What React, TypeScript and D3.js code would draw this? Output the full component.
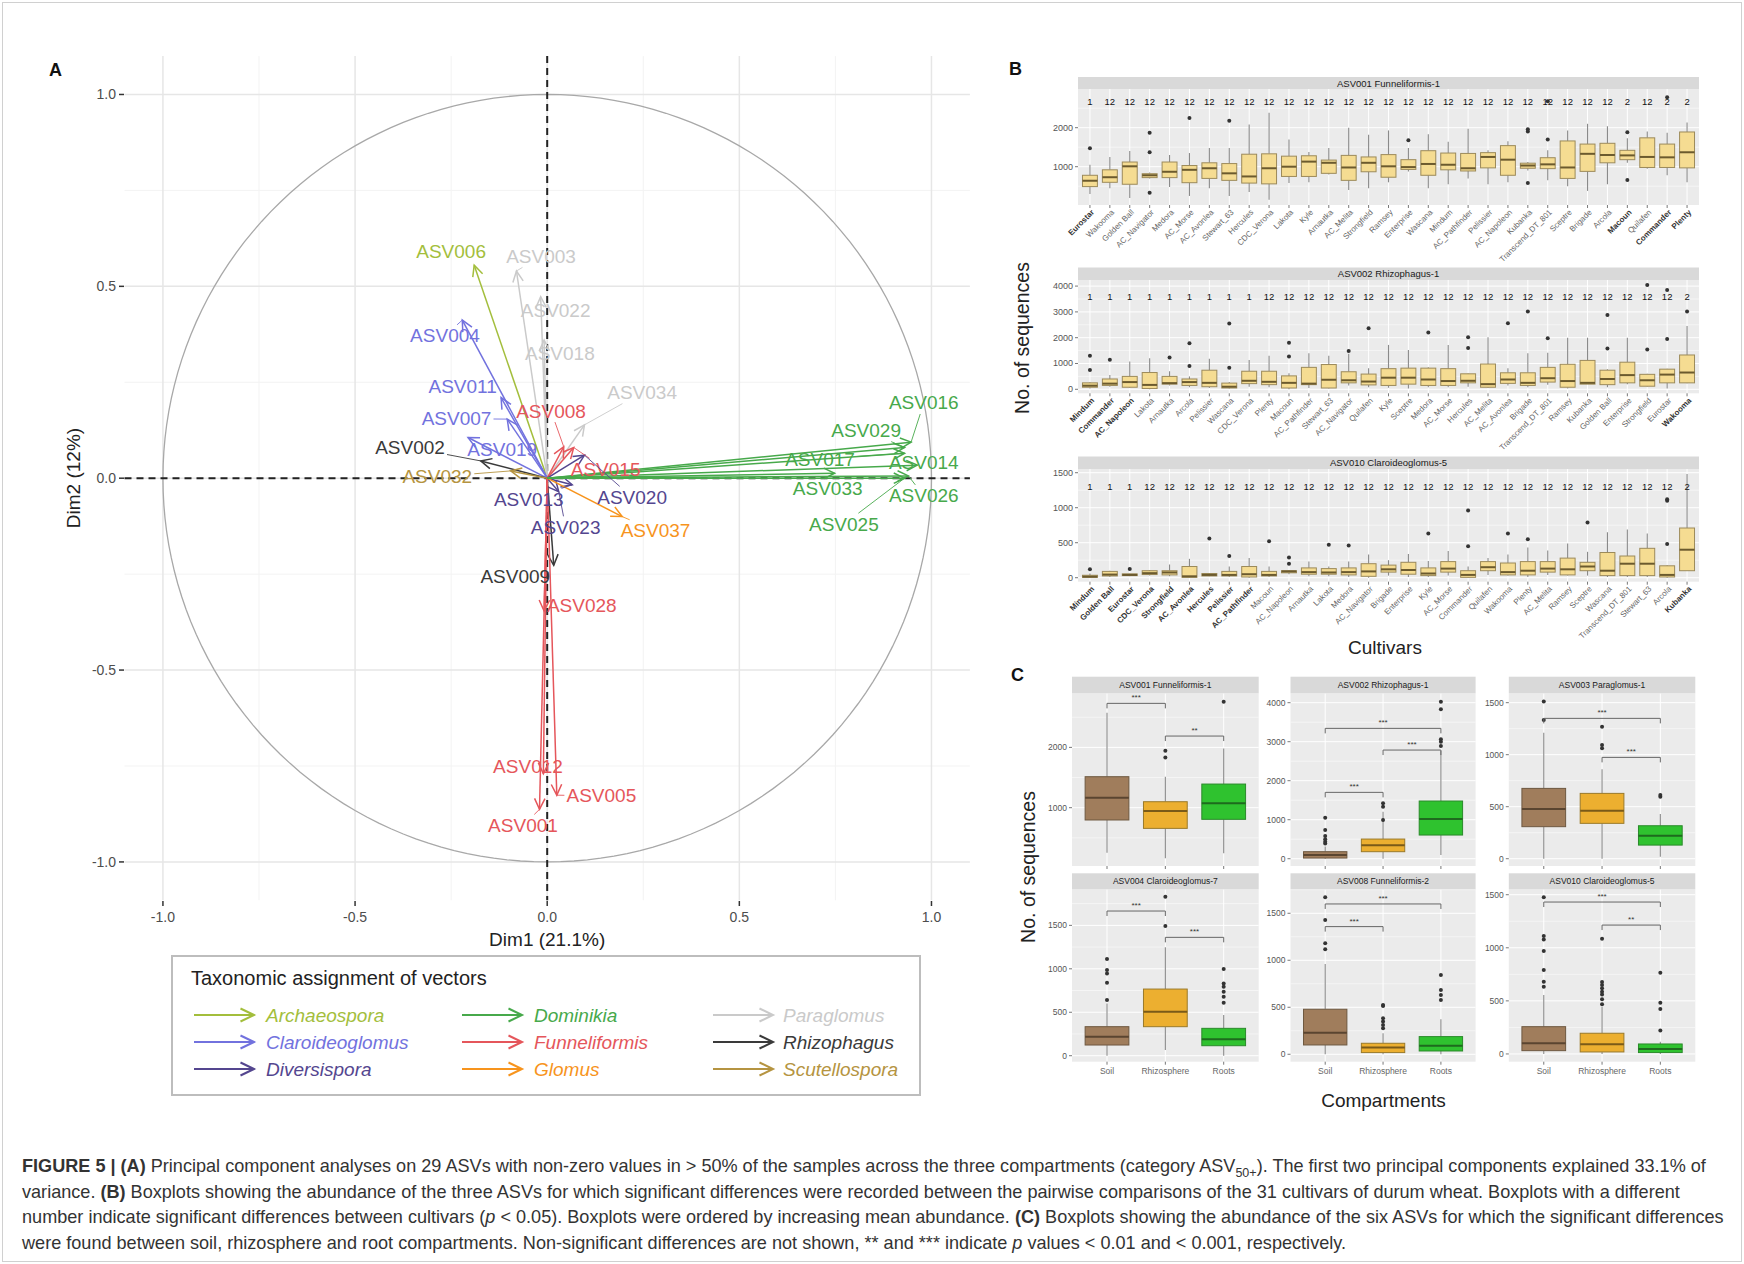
import React from 'react';
import * as d3 from 'd3';

const FONT = '"Liberation Sans", Arial, Helvetica, sans-serif';

// ---------------- Panel A data ----------------
const genera = ['Archaeospora', 'Claroideoglomus', 'Diversispora', 'Dominikia', 'Funneliformis', 'Glomus', 'Paraglomus', 'Rhizophagus', 'Scutellospora'];
const genusColors = ['#A3BE3C', '#7272DE', '#54468F', '#47A94B', '#E5565B', '#F7941D', '#CACACA', '#3A3A3A', '#B59441'];

const asvNames = ['ASV006', 'ASV003', 'ASV022', 'ASV018', 'ASV034', 'ASV004', 'ASV011', 'ASV007', 'ASV019', 'ASV002', 'ASV032', 'ASV008', 'ASV015', 'ASV020', 'ASV013', 'ASV023', 'ASV037', 'ASV009', 'ASV028', 'ASV012', 'ASV001', 'ASV005', 'ASV016', 'ASV029', 'ASV017', 'ASV014', 'ASV033', 'ASV026', 'ASV025'];
const asvGenus = ['Archaeospora', 'Paraglomus', 'Paraglomus', 'Paraglomus', 'Paraglomus', 'Claroideoglomus', 'Claroideoglomus', 'Claroideoglomus', 'Claroideoglomus', 'Rhizophagus', 'Scutellospora', 'Funneliformis', 'Funneliformis', 'Diversispora', 'Diversispora', 'Diversispora', 'Glomus', 'Rhizophagus', 'Funneliformis', 'Funneliformis', 'Funneliformis', 'Funneliformis', 'Dominikia', 'Dominikia', 'Dominikia', 'Dominikia', 'Dominikia', 'Dominikia', 'Dominikia'];
const dim1 = [-0.19, -0.08, -0.017, -0.008, 0.097, -0.221, -0.12, -0.104, -0.206, -0.173, -0.095, 0.043, 0.069, 0.097, 0.065, 0.03, 0.195, 0.017, -0.008, -0.01, -0.02, 0.025, 0.947, 0.93, 0.93, 0.963, 0.748, 0.94, 0.93];
const dim2 = [0.555, 0.54, 0.473, 0.36, 0.139, 0.412, 0.21, 0.154, 0.106, 0.045, 0.019, 0.082, 0.08, 0.06, -0.017, -0.035, -0.1, -0.227, -0.346, -0.77, -0.863, -0.826, 0.094, 0.08, 0.065, 0.034, 0.013, 0.006, 0.0];
const labelDim1 = [-0.25, -0.016, 0.022, 0.033, 0.247, -0.266, -0.22, -0.236, -0.117, -0.357, -0.286, 0.01, 0.152, 0.221, -0.048, 0.048, 0.282, -0.083, 0.09, -0.05, -0.063, 0.141, 0.98, 0.83, 0.71, 0.98, 0.73, 0.98, 0.772];
const labelDim2 = [0.59, 0.578, 0.436, 0.324, 0.223, 0.371, 0.24, 0.155, 0.075, 0.08, 0.004, 0.175, 0.023, -0.05, -0.055, -0.128, -0.137, -0.257, -0.332, -0.751, -0.905, -0.828, 0.196, 0.124, 0.05, 0.041, -0.027, -0.046, -0.12];
const pcaTicks = [-1.0, -0.5, 0.0, 0.5, 1.0];
const pcaMinor = [-0.75, -0.25, 0.25, 0.75];

// ---------------- Panel B data ----------------
const b1Cultivars = ['Eurostar', 'Wakooma', 'Golden Ball', 'AC_Navigator', 'Medora', 'AC_Morse', 'AC_Avonlea', 'Stewart_63', 'Hercules', 'CDC_Verona', 'Lakota', 'Kyle', 'Arnautka', 'AC_Melita', 'Strongfield', 'Ramsey', 'Enterprise', 'Wascana', 'Mindum', 'AC_Pathfinder', 'Pelissier', 'AC_Napoleon', 'Kubanka', 'Transcend_DT_801', 'Sceptre', 'Brigade', 'Arcola', 'Macoun', 'Quilafen', 'Commander', 'Plenty'];
const b1Stats = [[300, 490, 640, 780, 1050], [450, 600, 730, 920, 1250], [200, 550, 1010, 1120, 1400], [700, 720, 780, 820, 850], [480, 720, 870, 1120, 1300], [250, 590, 920, 1030, 1350], [450, 700, 960, 1100, 1480], [250, 650, 830, 1080, 1480], [350, 580, 750, 1320, 2080], [150, 560, 960, 1330, 2380], [580, 750, 1000, 1270, 1700], [600, 750, 1130, 1280, 1380], [800, 830, 1100, 1170, 1480], [400, 650, 980, 1290, 2000], [450, 870, 1100, 1250, 1820], [600, 730, 1010, 1310, 1930], [880, 930, 990, 1180, 1480], [450, 780, 1070, 1410, 1830], [550, 920, 1050, 1350, 1640], [700, 890, 960, 1340, 1970], [550, 970, 1250, 1360, 1420], [600, 780, 1180, 1540, 1650], [900, 960, 1030, 1090, 1120], [650, 950, 1060, 1230, 1420], [500, 700, 980, 1660, 1930], [380, 880, 1330, 1580, 2100], [550, 1100, 1300, 1600, 2040], [1100, 1180, 1290, 1420, 1730], [950, 980, 1250, 1740, 1900], [780, 980, 1240, 1580, 1870], [600, 970, 1370, 1890, 2130]];
const b1Outliers = [[1470], [], [], [330, 1370, 1870], [], [2250], [], [2180], [], [], [], [], [], [], [], [], [1680], [], [], [], [], [], [580, 1900, 1960], [1700, 2680], [], [], [], [660, 1880], [], [2780], []];
const b1Groups = ['1', '12', '12', '12', '12', '12', '12', '12', '12', '12', '12', '12', '12', '12', '12', '12', '12', '12', '12', '12', '12', '12', '12', '12', '12', '12', '12', '2', '12', '2', '2'];
const b1Bold = ['Eurostar', 'Macoun', 'Commander', 'Plenty'];

const b2Cultivars = ['Mindum', 'Commander', 'AC_Napoleon', 'Lakota', 'Arnautka', 'Arcola', 'Pelissier', 'Wascana', 'CDC_Verona', 'Plenty', 'Macoun', 'AC_Pathfinder', 'Stewart_63', 'AC_Navigator', 'Quilafen', 'Kyle', 'Sceptre', 'Medora', 'AC_Morse', 'Hercules', 'AC_Melita', 'AC_Avonlea', 'Brigade', 'Transcend_DT_801', 'Ramsey', 'Kubanka', 'Golden Ball', 'Enterprise', 'Strongfield', 'Eurostar', 'Wakooma'];
const b2Stats = [[30, 80, 140, 250, 280], [100, 150, 220, 400, 550], [50, 80, 280, 500, 1080], [0, 30, 170, 650, 1200], [150, 200, 240, 500, 700], [80, 150, 280, 400, 500], [50, 100, 250, 740, 1180], [30, 50, 100, 240, 280], [100, 220, 330, 700, 1140], [80, 180, 290, 700, 1300], [0, 50, 250, 520, 620], [50, 180, 220, 850, 1400], [30, 50, 370, 960, 1300], [150, 250, 350, 680, 1380], [80, 170, 300, 590, 820], [60, 150, 450, 800, 1720], [30, 200, 450, 820, 1520], [80, 150, 380, 820, 850], [80, 150, 320, 800, 1720], [100, 250, 330, 600, 620], [50, 80, 200, 980, 2020], [150, 230, 380, 640, 820], [80, 150, 250, 640, 1400], [180, 280, 430, 850, 1420], [30, 80, 320, 970, 2000], [200, 200, 250, 1120, 2000], [80, 180, 400, 740, 780], [200, 250, 550, 1050, 2000], [100, 120, 350, 580, 600], [30, 250, 570, 780, 800], [230, 250, 650, 1330, 2450]];
const b2Outliers = [[750, 1300], [1150], [], [], [1230], [900, 1780], [], [840, 2550], [], [], [1270, 1800], [], [], [1480], [2370], [], [], [2200], [], [1600, 2020], [], [2560], [3020], [1980], [], [], [1580, 2880], [], [1540, 4040], [1950, 3850], [3020]];
const b2Groups = ['1', '1', '1', '1', '1', '1', '1', '1', '1', '12', '12', '12', '12', '12', '12', '12', '12', '12', '12', '12', '12', '12', '12', '12', '12', '12', '12', '12', '12', '12', '2'];
const b2Bold = ['Mindum', 'Commander', 'AC_Napoleon', 'Wakooma'];

const b3Cultivars = ['Mindum', 'Golden Ball', 'Eurostar', 'CDC_Verona', 'Strongfield', 'AC_Avonlea', 'Hercules', 'Pelissier', 'AC_Pathfinder', 'Macoun', 'AC_Napoleon', 'Arnautka', 'Lakota', 'Medora', 'AC_Navigator', 'Brigade', 'Enterprise', 'Kyle', 'AC_Morse', 'Commander', 'Quilafen', 'Wakooma', 'Plenty', 'AC_Melita', 'Ramsey', 'Sceptre', 'Wascana', 'Transcend_DT_801', 'Stewart_63', 'Arcola', 'Kubanka'];
const b3Stats = [[0, 5, 15, 35, 60], [10, 25, 45, 90, 100], [20, 30, 40, 55, 60], [30, 45, 65, 100, 110], [20, 40, 75, 100, 190], [0, 5, 20, 160, 270], [20, 25, 40, 60, 65], [10, 25, 40, 90, 160], [0, 10, 50, 160, 280], [10, 25, 40, 90, 160], [50, 70, 90, 100, 110], [20, 50, 80, 140, 230], [20, 50, 75, 130, 160], [10, 40, 80, 140, 230], [0, 20, 90, 200, 330], [30, 80, 120, 180, 250], [10, 50, 110, 220, 340], [10, 30, 60, 140, 240], [30, 80, 130, 230, 380], [0, 5, 40, 100, 160], [40, 100, 150, 230, 280], [30, 40, 80, 210, 330], [10, 40, 100, 230, 430], [40, 80, 130, 230, 390], [30, 40, 120, 280, 490], [30, 100, 160, 220, 370], [10, 30, 100, 360, 650], [10, 30, 200, 310, 690], [10, 30, 200, 420, 630], [0, 10, 40, 170, 180], [100, 100, 400, 710, 1480]];
const b3Outliers = [[120], [], [125], [], [], [], [560], [310], [], [520], [200, 290], [], [470], [460], [], [], [], [630], [], [450, 960], [], [630], [550], [], [], [790], [], [], [], [480, 1100, 1120], []];
const b3Groups = ['1', '1', '1', '12', '12', '12', '12', '12', '12', '12', '12', '12', '12', '12', '12', '12', '12', '12', '12', '12', '12', '12', '12', '12', '12', '12', '12', '12', '12', '12', '2'];
const b3Bold = ['Mindum', 'Golden Ball', 'Eurostar', 'CDC_Verona', 'Strongfield', 'AC_Avonlea', 'Hercules', 'Pelissier', 'AC_Pathfinder', 'Kubanka'];

// ---------------- Panel C data ----------------
const compartments = ['Soil', 'Rhizosphere', 'Roots'];
const compFill = ['#A07D5C', '#ECAF30', '#2FC22F'];
const compStroke = ['#6E5840', '#9A7A2A', '#2A8A2A'];
const compMedian = ['#5A4530', '#7A5A18', '#1E6A1E'];

const c1Stats = [[254, 796, 1166, 1514, 2575], [160, 657, 945, 1099, 1514], [243, 807, 1072, 1392, 1983]];
const c1Out = [[], [1834, 1945], [2757]];
const c2Stats = [[0, 17, 94, 180, 310], [0, 180, 342, 504, 1205], [94, 607, 1017, 1479, 2769]];
const c2Out = [[393, 436, 496, 581, 735, 1051], [991, 1333, 1419], [2889, 3000, 3060, 3829, 4025]];
const c3Stats = [[0, 308, 478, 676, 1211], [0, 340, 462, 628, 859], [19, 131, 221, 317, 430]];
const c3Out = [[1333, 1510], [1061, 1093, 1269], [596, 612]];
const c4Stats = [[0, 123, 219, 334, 602], [65, 334, 506, 767, 1247], [0, 115, 188, 315, 468]];
const c4Out = [[641, 840, 947, 986, 1112], [1492, 1830], [610, 679, 736, 794, 832, 997]];
const c5Stats = [[0, 99, 230, 479, 961], [0, 18, 71, 117, 223], [0, 35, 92, 188, 372]];
const c5Out = [[1117, 1181, 1429, 1670], [277, 312, 348, 383, 514, 525], [578, 631, 684, 844]];
const c6Stats = [[0, 31, 100, 257, 555], [0, 19, 91, 195, 445], [0, 13, 47, 94, 116]];
const c6Out = [[634, 681, 791, 970, 1079, 1111, 1475], [468, 515, 560, 587, 620, 650, 678, 1086], [220, 424, 483, 766]];

const cTitles = ['ASV001 Funneliformis-1', 'ASV002 Rhizophagus-1', 'ASV003 Paraglomus-1', 'ASV004 Claroideoglomus-7', 'ASV008 Funneliformis-2', 'ASV010 Claroideoglomus-5'];
const cBrackets: [number, number, number, string][][] = [
  [[0, 1, 2730, '***'], [1, 2, 2188, '**']],
  [[0, 1, 1701, '***'], [1, 2, 2786, '***'], [0, 2, 3342, '***']],
  [[0, 2, 1349, '***'], [1, 2, 974, '***']],
  [[0, 1, 1665, '***'], [1, 2, 1362, '***']],
  [[0, 1, 1358, '***'], [0, 2, 1599, '***']],
  [[0, 2, 1431, '***'], [1, 2, 1214, '**']],
];

// ---------------- Box panel ----------------
type BoxCfg = {
  x0: number; x1: number; sy0: number; py0: number; py1: number;
  domain: [number, number]; ticks: number[];
  title: string; titleSize: number; cats: string[]; stats: number[][]; outs: number[][];
  fills: string[]; strokes: string[]; medians: string[];
  groups?: string[]; groupY?: number; bold?: string[];
  xLabels: 'rot' | 'flat' | 'none'; brackets?: [number, number, number, string][];
  tickSize: number; xLabelSize: number;
};

function BoxPanel({ c }: { c: BoxCfg }) {
  const x = d3.scalePoint<string>().domain(c.cats).range([c.x0, c.x1]).padding(0.6);
  const y = d3.scaleLinear().domain(c.domain).range([c.py1, c.py0]);
  const step = x.step();
  const bw = step * 0.75;
  const tstep = c.ticks[1] - c.ticks[0];
  const minor: number[] = [];
  for (let v = c.ticks[0] - tstep / 2; v <= c.domain[1]; v += tstep) {
    if (v >= c.domain[0]) minor.push(v);
  }
  return (
    <g>
      <rect x={c.x0} y={c.py0} width={c.x1 - c.x0} height={c.py1 - c.py0} fill="#EBEBEB" />
      {minor.map((v, i) => (
        <line key={'mn' + i} x1={c.x0} x2={c.x1} y1={y(v)} y2={y(v)} stroke="#fff" strokeWidth={0.5} />
      ))}
      {c.ticks.map((v, i) => (
        <line key={'mj' + i} x1={c.x0} x2={c.x1} y1={y(v)} y2={y(v)} stroke="#fff" strokeWidth={1} />
      ))}
      {c.cats.map((k, i) => (
        <line key={'vg' + i} x1={x(k)} x2={x(k)} y1={c.py0} y2={c.py1} stroke="#fff" strokeWidth={1} />
      ))}
      <rect x={c.x0} y={c.sy0} width={c.x1 - c.x0} height={c.py0 - c.sy0} fill="#D9D9D9" />
      <text x={(c.x0 + c.x1) / 2} y={(c.sy0 + c.py0) / 2} textAnchor="middle" dominantBaseline="central" fontSize={c.titleSize} fill="#1a1a1a">{c.title}</text>
      {c.ticks.map((v, i) => (
        <g key={'yt' + i}>
          <line x1={c.x0 - 3} x2={c.x0} y1={y(v)} y2={y(v)} stroke="#555" strokeWidth={0.8} />
          <text x={c.x0 - 5} y={y(v)} textAnchor="end" dominantBaseline="central" fontSize={c.tickSize} fill="#555">{v}</text>
        </g>
      ))}
      {c.cats.map((k, i) => (
        <line key={'xt' + i} x1={x(k)} x2={x(k)} y1={c.py1} y2={c.py1 + 3} stroke="#555" strokeWidth={0.8} />
      ))}
      {c.cats.map((k, i) => {
        const [lo, q1, md, q3, hi] = c.stats[i];
        const cx = x(k) as number;
        return (
          <g key={'bx' + i}>
            <line x1={cx} x2={cx} y1={y(lo)} y2={y(q1)} stroke="#8a8a8a" strokeWidth={1.1} />
            <line x1={cx} x2={cx} y1={y(q3)} y2={y(hi)} stroke="#8a8a8a" strokeWidth={1.1} />
            <rect x={cx - bw / 2} y={y(q3)} width={bw} height={Math.max(1, y(q1) - y(q3))} fill={c.fills[i]} stroke={c.strokes[i]} strokeWidth={1} />
            <line x1={cx - bw / 2} x2={cx + bw / 2} y1={y(md)} y2={y(md)} stroke={c.medians[i]} strokeWidth={2} />
            {c.outs[i].map((o, j) => (
              <circle key={j} cx={cx} cy={y(o)} r={2} fill="#333" />
            ))}
          </g>
        );
      })}
      {c.groups && c.cats.map((k, i) => (
        <text key={'gr' + i} x={x(k)} y={c.groupY} textAnchor="middle" dominantBaseline="central" fontSize={9.5} fill="#111">{c.groups![i]}</text>
      ))}
      {c.brackets && c.brackets.map((b, i) => {
        const xa = x(c.cats[b[0]]) as number;
        const xb = x(c.cats[b[1]]) as number;
        const yy = y(b[2]);
        return (
          <g key={'br' + i}>
            <path d={`M${xa},${yy + 5}V${yy}H${xb}V${yy + 5}`} fill="none" stroke="#666" strokeWidth={1} />
            <text x={(xa + xb) / 2} y={yy - 3} textAnchor="middle" fontSize={8} fill="#333">{b[3]}</text>
          </g>
        );
      })}
      {c.xLabels === 'rot' && c.cats.map((k, i) => (
        <text key={'xl' + i} transform={`translate(${(x(k) as number) + 3},${c.py1 + 6}) rotate(-45)`} textAnchor="end" dominantBaseline="central" fontSize={c.xLabelSize} fill={c.bold && c.bold.includes(k) ? '#333' : '#666'} fontWeight={c.bold && c.bold.includes(k) ? 'bold' : 'normal'}>{k}</text>
      ))}
      {c.xLabels === 'flat' && c.cats.map((k, i) => (
        <text key={'xf' + i} x={x(k)} y={c.py1 + 9} textAnchor="middle" dominantBaseline="central" fontSize={c.xLabelSize} fill="#666">{k}</text>
      ))}
    </g>
  );
}

// ---------------- Panel A ----------------
function PanelA() {
  const xs = d3.scaleLinear().domain([-1.1, 1.1]).range([124.5, 969.9]);
  const ys = d3.scaleLinear().domain([-1.1, 1.1]).range([900.3, 56.1]);
  const color = (g: string) => genusColors[genera.indexOf(g)];
  const head = (x1: number, y1: number, x2: number, y2: number, len = 12) => {
    const a = Math.atan2(y2 - y1, x2 - x1);
    const s = Math.PI / 7;
    const p1 = [x2 - len * Math.cos(a - s), y2 - len * Math.sin(a - s)];
    const p2 = [x2 - len * Math.cos(a + s), y2 - len * Math.sin(a + s)];
    return `M${p1[0]},${p1[1]}L${x2},${y2}L${p2[0]},${p2[1]}`;
  };
  const circ = d3.range(0, 361, 2).map((d) => [xs(Math.cos((d * Math.PI) / 180)), ys(Math.sin((d * Math.PI) / 180))] as [number, number]);
  const circlePath = d3.line()(circ) as string;
  const ox = xs(0), oy = ys(0);
  return (
    <g>
      {pcaMinor.map((v, i) => (
        <g key={'mn' + i}>
          <line x1={xs(v)} x2={xs(v)} y1={56.1} y2={900.3} stroke="#F3F3F3" strokeWidth={1} />
          <line x1={124.5} x2={969.9} y1={ys(v)} y2={ys(v)} stroke="#F3F3F3" strokeWidth={1} />
        </g>
      ))}
      {pcaTicks.map((v, i) => (
        <g key={'mj' + i}>
          <line x1={xs(v)} x2={xs(v)} y1={56.1} y2={900.3} stroke="#E6E6E6" strokeWidth={1.5} />
          <line x1={124.5} x2={969.9} y1={ys(v)} y2={ys(v)} stroke="#E6E6E6" strokeWidth={1.5} />
          <line x1={119} x2={124} y1={ys(v)} y2={ys(v)} stroke="#333" strokeWidth={1.5} />
          <text x={116} y={ys(v)} textAnchor="end" dominantBaseline="central" fontSize={14} fill="#4d4d4d">{v.toFixed(1)}</text>
          <line x1={xs(v)} x2={xs(v)} y1={901} y2={906} stroke="#333" strokeWidth={1.5} />
          <text x={xs(v)} y={917} textAnchor="middle" dominantBaseline="central" fontSize={14} fill="#4d4d4d">{v.toFixed(1)}</text>
        </g>
      ))}
      <path d={circlePath} fill="none" stroke="#A8A8A8" strokeWidth={1.3} />
      <line x1={124.5} x2={969.9} y1={oy} y2={oy} stroke="#222" strokeWidth={2} strokeDasharray="7,5" />
      <line x1={ox} x2={ox} y1={56.1} y2={900.3} stroke="#222" strokeWidth={2} strokeDasharray="7,5" />
      {asvNames.map((n, i) => {
        const tx = xs(dim1[i]), ty = ys(dim2[i]);
        const col = color(asvGenus[i]);
        return (
          <g key={n} stroke={col} fill="none" strokeWidth={1.5}>
            <line x1={ox} y1={oy} x2={tx} y2={ty} />
            <path d={head(ox, oy, tx, ty)} />
          </g>
        );
      })}
      {asvNames.map((n, i) => {
        const tx = xs(dim1[i]), ty = ys(dim2[i]);
        const lx = xs(labelDim1[i]), ly = ys(labelDim2[i]);
        const dx = tx - lx, dy = ty - ly;
        const t = Math.min(37 / Math.max(Math.abs(dx), 1e-6), 11 / Math.max(Math.abs(dy), 1e-6));
        const col = color(asvGenus[i]);
        const show = t < 1 && Math.hypot(dx, dy) * (1 - t) > 6;
        return (
          <g key={'lb' + n}>
            {show && <line x1={lx + dx * t} y1={ly + dy * t} x2={tx} y2={ty} stroke={col} strokeWidth={0.9} />}
            <text x={lx} y={ly} textAnchor="middle" dominantBaseline="central" fontSize={19} fill={col}>{n}</text>
          </g>
        );
      })}
      <text x={547.2} y={939} textAnchor="middle" dominantBaseline="central" fontSize={19} fill="#222">Dim1 (21.1%)</text>
      <text transform="translate(73,478) rotate(-90)" textAnchor="middle" dominantBaseline="central" fontSize={19} fill="#222">Dim2 (12%)</text>
      <text x={49} y={76} fontSize={18} fontWeight="bold" fill="#111">A</text>
      {/* legend */}
      <rect x={172} y={956} width={748} height={139} fill="#fff" stroke="#BDBDBD" strokeWidth={2} />
      <text x={191} y={985} fontSize={20} fill="#222">Taxonomic assignment of vectors</text>
      {genera.map((g, i) => {
        const col = Math.floor(i / 3), row = i % 3;
        const ax = [194, 462, 713][col];
        const tx = [266, 534, 783][col];
        const yy = [1015, 1042, 1069][row];
        const c = genusColors[i];
        return (
          <g key={g}>
            <line x1={ax} x2={ax + 60} y1={yy} y2={yy} stroke={c} strokeWidth={2} />
            <path d={head(ax, yy, ax + 60, yy, 15)} stroke={c} strokeWidth={2} fill="none" />
            <text x={tx} y={yy} dominantBaseline="central" fontSize={19} fontStyle="italic" fill={c}>{g}</text>
          </g>
        );
      })}
    </g>
  );
}

function PanelB() {
  const fill = '#F5DC92', stroke = '#9C8A5A', med = '#6B5A2E';
  const mk = (n: number, v: string) => new Array(n).fill(v);
  const base = { x0: 1078, x1: 1699, titleSize: 9.5, fills: mk(31, fill), strokes: mk(31, stroke), medians: mk(31, med), xLabels: 'rot' as const, tickSize: 9, xLabelSize: 8 };
  const p1: BoxCfg = { ...base, sy0: 77, py0: 89, py1: 205, domain: [18, 2992], ticks: [1000, 2000], title: 'ASV001 Funneliformis-1', cats: b1Cultivars, stats: b1Stats, outs: b1Outliers, groups: b1Groups, groupY: 101.7, bold: b1Bold };
  const p2: BoxCfg = { ...base, sy0: 267.5, py0: 280, py1: 393.3, domain: [-155, 4236], ticks: [0, 1000, 2000, 3000, 4000], title: 'ASV002 Rhizophagus-1', cats: b2Cultivars, stats: b2Stats, outs: b2Outliers, groups: b2Groups, groupY: 296.7, bold: b2Bold };
  const p3: BoxCfg = { ...base, sy0: 456.5, py0: 469, py1: 581.7, domain: [-57, 1553], ticks: [0, 500, 1000, 1500], title: 'ASV010 Claroideoglomus-5', cats: b3Cultivars, stats: b3Stats, outs: b3Outliers, groups: b3Groups, groupY: 486.7, bold: b3Bold };
  return (
    <g>
      <text x={1009} y={75} fontSize={18} fontWeight="bold" fill="#111">B</text>
      <BoxPanel c={p1} />
      <BoxPanel c={p2} />
      <BoxPanel c={p3} />
      <text transform="translate(1022,338) rotate(-90)" textAnchor="middle" dominantBaseline="central" fontSize={19.5} fill="#222">No. of sequences</text>
      <text x={1385} y={647} textAnchor="middle" dominantBaseline="central" fontSize={19} fill="#222">Cultivars</text>
    </g>
  );
}

function PanelC() {
  const cols: [number, number][] = [[1072, 1258.7], [1290.5, 1475.6], [1508.8, 1695.3]];
  const rows = [{ sy0: 676.7, py0: 693.3, py1: 866 }, { sy0: 873.3, py0: 889.3, py1: 1061.7 }];
  const stats = [c1Stats, c2Stats, c3Stats, c4Stats, c5Stats, c6Stats];
  const outs = [c1Out, c2Out, c3Out, c4Out, c5Out, c6Out];
  const domains: [number, number][] = [[33, 2897], [-187, 4241], [-70, 1590], [-69, 1915], [-79, 1755], [-73, 1551]];
  const ticks = [[1000, 2000], [0, 1000, 2000, 3000, 4000], [0, 500, 1000, 1500], [0, 500, 1000, 1500], [0, 500, 1000, 1500], [0, 500, 1000, 1500]];
  return (
    <g>
      <text x={1011} y={681} fontSize={18} fontWeight="bold" fill="#111">C</text>
      {cTitles.map((t, i) => {
        const r = rows[Math.floor(i / 3)];
        const cl = cols[i % 3];
        const cfg: BoxCfg = {
          x0: cl[0], x1: cl[1], sy0: r.sy0, py0: r.py0, py1: r.py1, domain: domains[i], ticks: ticks[i],
          title: t, titleSize: 8.5, cats: compartments, stats: stats[i], outs: outs[i],
          fills: compFill, strokes: compStroke, medians: compMedian,
          xLabels: i >= 3 ? 'flat' : 'none', brackets: cBrackets[i], tickSize: 8.5, xLabelSize: 8.5,
        };
        return <BoxPanel key={t} c={cfg} />;
      })}
      <text transform="translate(1028,867) rotate(-90)" textAnchor="middle" dominantBaseline="central" fontSize={19.5} fill="#222">No. of sequences</text>
      <text x={1383.5} y={1100} textAnchor="middle" dominantBaseline="central" fontSize={19} fill="#222">Compartments</text>
    </g>
  );
}

function Caption() {
  const fs = 18.1;
  return (
    <g fontSize={fs} fill="#333">
      <text x={22} y={1172}>
        <tspan fontWeight="bold">FIGURE 5 | (A)</tspan>
        <tspan>{' Principal component analyses on 29 ASVs with non-zero values in > 50% of the samples across the three compartments (category ASV'}</tspan>
        <tspan fontSize={12.5} dy={4.5}>50+</tspan>
        <tspan dy={-4.5}>{'). The first two principal components explained 33.1% of'}</tspan>
      </text>
      <text x={22} y={1197.5}>
        <tspan>{'variance. '}</tspan>
        <tspan fontWeight="bold">(B)</tspan>
        <tspan>{' Boxplots showing the abundance of the three ASVs for which significant differences were recorded between the pairwise comparisons of the 31 cultivars of durum wheat. Boxplots with a different'}</tspan>
      </text>
      <text x={22} y={1223}>
        <tspan>{'number indicate significant differences between cultivars ('}</tspan>
        <tspan fontStyle="italic">p</tspan>
        <tspan>{' < 0.05). Boxplots were ordered by increasing mean abundance. '}</tspan>
        <tspan fontWeight="bold">(C)</tspan>
        <tspan>{' Boxplots showing the abundance of the six ASVs for which the significant differences'}</tspan>
      </text>
      <text x={22} y={1248.5}>
        <tspan>{'were found between soil, rhizosphere and root compartments. Non-significant differences are not shown, ** and *** indicate '}</tspan>
        <tspan fontStyle="italic">p</tspan>
        <tspan>{' values < 0.01 and < 0.001, respectively.'}</tspan>
      </text>
    </g>
  );
}

export default function App() {
  return (
    <svg width={1744} height={1264} style={{ position: 'absolute', left: 0, top: 0, background: '#fff', display: 'block' }} fontFamily={FONT}>
      <rect x={0} y={0} width={1744} height={1264} fill="#fff" />
      <rect x={2.5} y={2.5} width={1739} height={1259} fill="none" stroke="#D0D0D0" strokeWidth={1} />
      <PanelA />
      <PanelB />
      <PanelC />
      <Caption />
    </svg>
  );
}
